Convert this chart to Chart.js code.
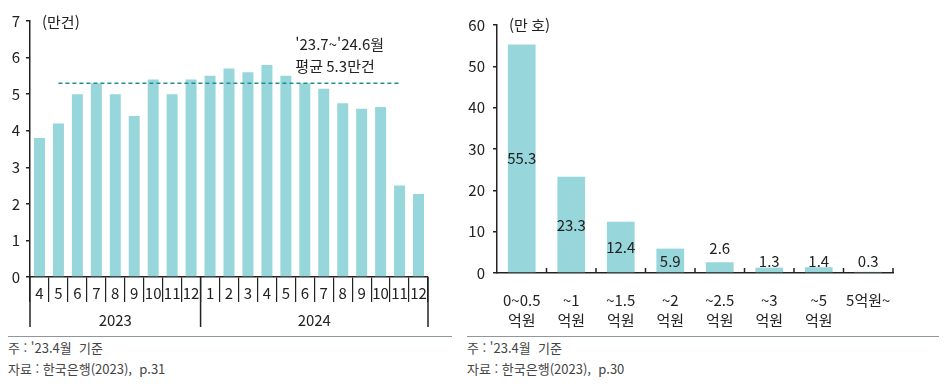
<!DOCTYPE html>
<html lang="ko">
<head>
    <meta charset="UTF-8">
    <title>주택 거래 및 대출 규모</title>
    <script src="https://cdn.jsdelivr.net/npm/chart.js"></script>
    <style>
        body { margin: 0; background: #fff; font-family: "Noto Sans CJK KR", sans-serif; }
        #wrap { position: relative; width: 946px; height: 384px; }
        canvas { position: absolute; top: 0; }
        .foot { position: absolute; top: 336px; border-top: 1.5px solid #8e979f; font-size: 13px; color: #444; line-height: 21px; }
    </style>
</head>
<body>
<div id="wrap">
    <canvas id="left" width="460" height="335" style="left:0"></canvas>
    <canvas id="right" width="486" height="335" style="left:460px"></canvas>
    <div class="foot" style="left:8px; width:444px">주 : '23.4월 &nbsp;기준<br>자료 : 한국은행(2023), &nbsp;p.31</div>
    <div class="foot" style="left:467px; width:472px">주 : '23.4월 &nbsp;기준<br>자료 : 한국은행(2023), &nbsp;p.30</div>
</div>

<script>
    // left: monthly counts (만건)
    const months = ['4', '5', '6', '7', '8', '9', '10', '11', '12', '1', '2', '3', '4', '5', '6', '7', '8', '9', '10', '11', '12'];
    const yearLabels = ['2023', '2024'];
    const yearSpans = [9, 12];
    const monthly = [3.8, 4.2, 5.0, 5.3, 5.0, 4.4, 5.4, 5.0, 5.4, 5.5, 5.7, 5.6, 5.8, 5.5, 5.3, 5.15, 4.75, 4.6, 4.65, 2.5, 2.27];
    const avgValue = 5.3;
    const avgFrom = 1, avgTo = 19;
    const avgNote = ["'23.7~'24.6월", '평균 5.3만건'];

    // right: households by loan size (만 호)
    const bands = [['0~0.5', '억원'], ['~1', '억원'], ['~1.5', '억원'], ['~2', '억원'], ['~2.5', '억원'], ['~3', '억원'], ['~5', '억원'], '5억원~'];
    const households = [55.3, 23.3, 12.4, 5.9, 2.6, 1.3, 1.4, 0.3];

    Chart.defaults.font.family = "'Noto Sans CJK KR', sans-serif";
    Chart.defaults.font.size = 15;
    Chart.defaults.color = '#222';

    const barColor = '#97d6db';
    const ink = '#222';
    const avgLine = months.map((m, i) => (i >= avgFrom && i <= avgTo) ? avgValue : null);

    const leftDeco = {
        id: 'leftDeco',
        afterDraw(chart) {
            const { ctx, chartArea: a, scales: { x, y } } = chart;
            const half = (x.getPixelForValue(1) - x.getPixelForValue(0)) / 2;
            const edges = [x.getPixelForValue(0) - half];
            let n = 0;
            yearSpans.forEach(s => { n += s; edges.push(x.getPixelForValue(n - 1) + half); });

            ctx.save();
            ctx.strokeStyle = ink;
            ctx.lineWidth = 1.5;
            edges.forEach(px => {
                ctx.beginPath();
                ctx.moveTo(px, a.bottom);
                ctx.lineTo(px, a.bottom + 50);
                ctx.stroke();
            });
            ctx.fillStyle = ink;
            ctx.font = "15px 'Noto Sans CJK KR'";
            ctx.textAlign = 'center';
            ctx.textBaseline = 'middle';
            yearLabels.forEach((lab, i) => ctx.fillText(lab, (edges[i] + edges[i + 1]) / 2, a.bottom + 43));

            ctx.textAlign = 'left';
            ctx.fillText('(만건)', a.left + 12, a.top + 1);

            const ax = x.getPixelForValue(14) - half;
            const ay = y.getPixelForValue(avgValue);
            ctx.fillText(avgNote[0], ax, ay - 39);
            ctx.fillText(avgNote[1], ax, ay - 17);
            ctx.restore();
        }
    };

    new Chart(document.getElementById('left'), {
        data: {
            labels: months,
            datasets: [
                { type: 'line', data: avgLine, borderColor: '#1f8f8c', borderWidth: 1.5, borderDash: [4, 3], pointRadius: 0, fill: false, order: 0 },
                { type: 'bar', data: monthly, backgroundColor: barColor, barPercentage: 0.58, categoryPercentage: 1, order: 1 }
            ]
        },
        options: {
            responsive: false,
            animation: false,
            layout: { padding: { top: 21, right: 32, bottom: 0, left: 0 } },
            plugins: { legend: { display: false }, tooltip: { enabled: false } },
            scales: {
                x: {
                    offset: true,
                    grid: { offset: true, drawOnChartArea: false, drawTicks: true, tickLength: 25, color: ink, lineWidth: 1.2 },
                    border: { display: true, color: ink, width: 1.5 },
                    ticks: { autoSkip: false, maxRotation: 0, padding: -18 },
                    afterFit: s => { s.height = 58; }
                },
                y: {
                    min: 0, max: 7,
                    ticks: { stepSize: 1, padding: 6 },
                    grid: { drawOnChartArea: false, drawTicks: true, tickLength: 4, color: ink, lineWidth: 1.5 },
                    border: { display: true, color: ink, width: 1.5 },
                    afterFit: s => { s.width = 30; }
                }
            }
        },
        plugins: [leftDeco]
    });

    const rightDeco = {
        id: 'rightDeco',
        afterDraw(chart) {
            const { ctx, chartArea: a, scales: { x, y } } = chart;
            const half = (x.getPixelForValue(1) - x.getPixelForValue(0)) / 2;
            ctx.save();
            ctx.strokeStyle = ink;
            ctx.lineWidth = 1.5;
            for (let i = 0; i < households.length; i++) {
                const px = x.getPixelForValue(i) + half;
                ctx.beginPath();
                ctx.moveTo(px, a.bottom);
                ctx.lineTo(px, a.bottom - 5);
                ctx.stroke();
            }
            ctx.fillStyle = ink;
            ctx.font = "15px 'Noto Sans CJK KR'";
            ctx.textAlign = 'left';
            ctx.textBaseline = 'middle';
            ctx.fillText('(만 호)', a.left + 12, a.top);

            ctx.textAlign = 'center';
            households.forEach((v, i) => {
                let py;
                if (v >= 5) py = y.getPixelForValue(v / 2);
                else if (v >= 2) py = y.getPixelForValue(v) - 14;
                else py = y.getPixelForValue(0) - 12;
                ctx.fillText(v.toFixed(1), x.getPixelForValue(i), py);
            });
            ctx.restore();
        }
    };

    new Chart(document.getElementById('right'), {
        type: 'bar',
        data: {
            labels: bands,
            datasets: [{ data: households, backgroundColor: barColor, barPercentage: 0.56, categoryPercentage: 1 }]
        },
        options: {
            responsive: false,
            animation: false,
            layout: { padding: { top: 25, right: 53, bottom: 0, left: 0 } },
            plugins: { legend: { display: false }, tooltip: { enabled: false } },
            scales: {
                x: {
                    grid: { display: false },
                    border: { display: true, color: ink, width: 1.5 },
                    ticks: { autoSkip: false, maxRotation: 0, padding: 9, font: { size: 15, lineHeight: 1.35 } },
                    afterFit: s => { s.height = 62; }
                },
                y: {
                    min: 0, max: 60,
                    ticks: { stepSize: 10, padding: 8 },
                    grid: { drawOnChartArea: false, drawTicks: true, tickLength: 4, color: ink, lineWidth: 1.5 },
                    border: { display: true, color: ink, width: 1.5 },
                    afterFit: s => { s.width = 37; }
                }
            }
        },
        plugins: [rightDeco]
    });
</script>
</body>
</html>
